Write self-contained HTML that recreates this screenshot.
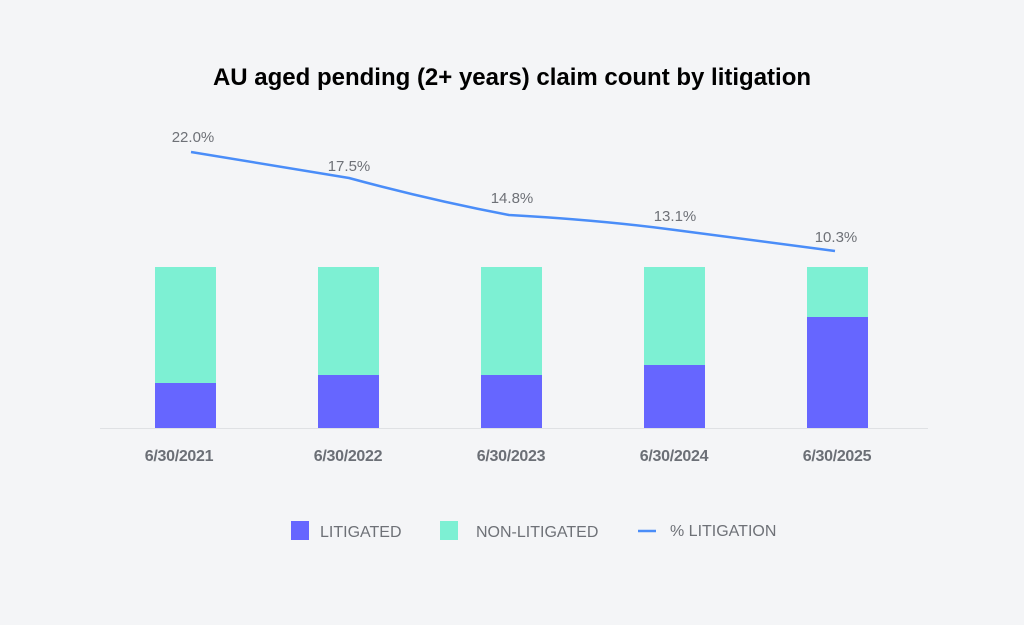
<!DOCTYPE html><html><head><style>body{margin:0;background:#f4f5f7}</style></head><body>
<svg width="1024" height="625" xmlns="http://www.w3.org/2000/svg" style="display:block;font-family:'Liberation Sans',sans-serif">
<rect width="1024" height="625" fill="#f4f5f7"/>
<text x="512" y="85" text-anchor="middle" font-size="24" font-weight="bold" fill="#000">AU aged pending (2+ years) claim count by litigation</text>
<line x1="100" y1="428.5" x2="928" y2="428.5" stroke="#dfe1e4" stroke-width="1"/>
<g fill="#7df0d3">
<rect x="155" y="267" width="61" height="161"/><rect x="318" y="267" width="61" height="161"/><rect x="481" y="267" width="61" height="161"/><rect x="644" y="267" width="61" height="161"/><rect x="807" y="267" width="61" height="161"/></g>
<g fill="#6666ff">
<rect x="155" y="383" width="61" height="45"/><rect x="318" y="375" width="61" height="53"/><rect x="481" y="375" width="61" height="53"/><rect x="644" y="365" width="61" height="63"/><rect x="807" y="317" width="61" height="111"/></g>
<path d="M191 152 L349 178 Q430 200 509 215 Q600 220 675 230 L835 251" fill="none" stroke="#4a8df8" stroke-width="2.5"/>
<g font-size="15" fill="#6e7177" text-anchor="middle">
<text x="193" y="142">22.0%</text><text x="349" y="171">17.5%</text><text x="512" y="203">14.8%</text><text x="675" y="221">13.1%</text><text x="836" y="242">10.3%</text></g>
<g font-size="16" font-weight="bold" fill="#6b6f76" text-anchor="middle" letter-spacing="-0.3">
<text x="179" y="461">6/30/2021</text><text x="348" y="461">6/30/2022</text><text x="511" y="461">6/30/2023</text><text x="674" y="461">6/30/2024</text><text x="837" y="461">6/30/2025</text></g>
<rect x="291" y="521" width="18" height="19" fill="#6666ff"/>
<rect x="440" y="521" width="18" height="19" fill="#7df0d3"/>
<line x1="638" y1="531" x2="656" y2="531" stroke="#4a8df8" stroke-width="2.5"/>
<g font-size="16" fill="#6e7177"><text x="320" y="537">LITIGATED</text><text x="476" y="537">NON-LITIGATED</text><text x="670" y="536">% LITIGATION</text></g>
</svg></body></html>
